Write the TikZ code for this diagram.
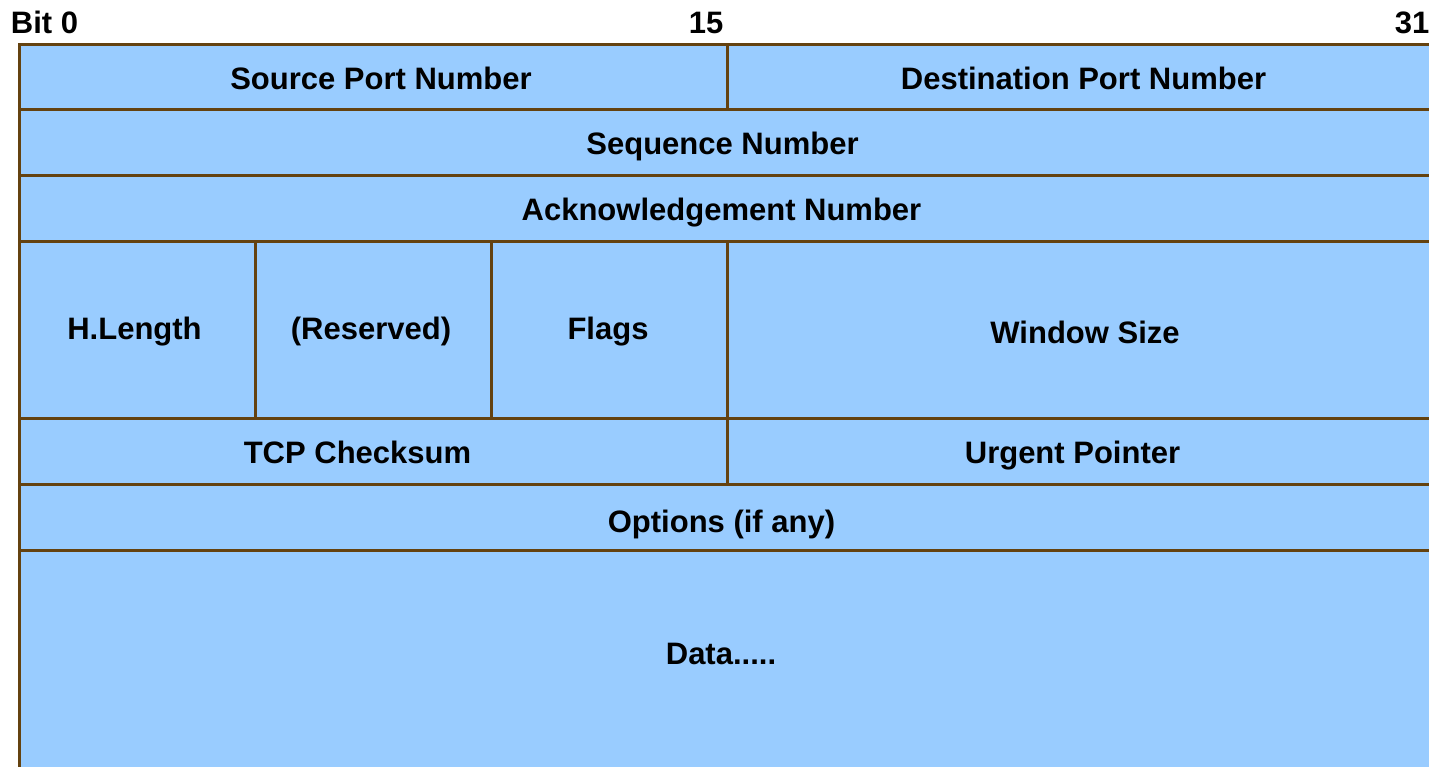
\documentclass[tikz,border=0pt]{standalone}
\usepackage{fontspec}
\setmainfont{Liberation Sans}
\definecolor{fieldfill}{RGB}{153,204,255}
\definecolor{gridbrown}{RGB}{100,66,16}
\begin{document}
\begin{tikzpicture}[x=1pt,y=-1pt,
  field/.style={fill=fieldfill,draw=gridbrown,line width=3pt},
  divider/.style={draw=gridbrown,line width=3pt},
  lbl/.style={font=\fontsize{31}{36}\selectfont\bfseries,anchor=base,inner sep=0pt,text=black}]
\useasboundingbox (0,0) rectangle (1429,767);
\clip (0,0) rectangle (1429,767);

% header frame (runs past the right and bottom edges)
\path[field] (19,45) rectangle (1437,800);

% row separators
\foreach \y in {110,176,242,418,484,550}
  \draw[divider] (19,\y) -- (1437,\y);

% column separators
\draw[divider] (727,45) -- (727,110);
\draw[divider] (255,242) -- (255,418);
\draw[divider] (491,242) -- (491,418);
\draw[divider] (727,242) -- (727,484);

% bit positions
\node[lbl] (bit0)  at (44.5,34) {Bit 0};
\node[lbl] (bit15) at (706,34)  {15};
\node[lbl] (bit31) at (1412,34) {31};

% field names
\node[lbl] (srcport) at (381,90)    {Source Port Number};
\node[lbl] (dstport) at (1083.5,90) {Destination Port Number};
\node[lbl] (seq)     at (722.5,155) {Sequence Number};
\node[lbl] (ack)     at (721.5,221) {Acknowledgement Number};
\node[lbl] (hlen)    at (134.5,339) {H.Length};
\node[lbl] (resv)    at (371,339)   {(Reserved)};
\node[lbl] (flags)   at (608,339)   {Flags};
\node[lbl] (window)  at (1085,343)  {Window Size};
\node[lbl] (cksum)   at (357.5,463) {TCP Checksum};
\node[lbl] (urgent)  at (1072.5,463){Urgent Pointer};
\node[lbl] (options) at (721.5,532) {Options (if any)};
\node[lbl] (data)    at (721,664)   {Data.....};
\end{tikzpicture}
\end{document}
